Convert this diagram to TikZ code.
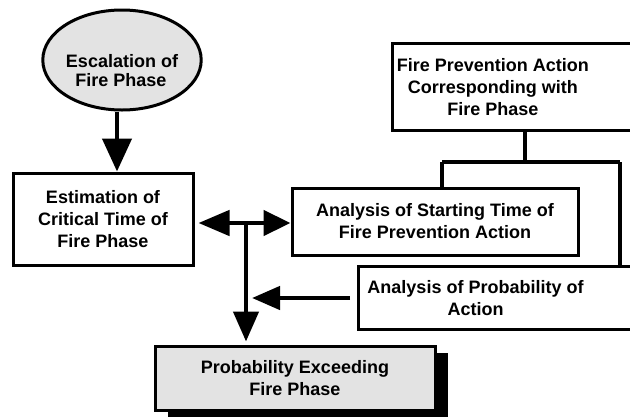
\documentclass[tikz,border=0pt]{standalone}
\usepackage{fontspec}
\setmainfont{Liberation Sans}
\usetikzlibrary{calc,shapes.geometric,shadows,arrows.meta}

\begin{document}
\begin{tikzpicture}[x=1pt, y=-1pt,
    box/.style={rectangle, draw, line width=3pt, align=center,
      font=\fontsize{18}{22}\selectfont\bfseries},
    shade/.style={fill=gray!22},
    link/.style={line width=4.5pt},
    >={Triangle[length=33pt,width=29pt]}]

  \useasboundingbox (0,0) rectangle (630,416);

  \node[box,shade,ellipse,minimum width=155pt,minimum height=100pt,inner sep=0pt,
    font=\fontsize{18}{18.5}\selectfont\bfseries,
    text height=60pt,text depth=8pt] (esc) at (122,60)
    {Escalation of\\Fire Phase\hspace*{2pt}};
  \node[box,minimum width=180pt,minimum height=92pt] (est) at (103,219)
    {Estimation of\\Critical Time of\\Fire Phase};
  \node[box,draw=none,minimum width=176pt,minimum height=84pt,anchor=west] (act) at (392,87)
    {Fire Prevention Action\\Corresponding with\\Fire Phase};
  \node[box,minimum width=286pt,minimum height=67pt] (start) at (435,221.5)
    {Analysis of Starting Time of\\Fire Prevention Action};
  \node[box,draw=none,minimum width=232pt,minimum height=60pt,anchor=west] (prob) at (358,298)
    {Analysis of Probability of\\Action};
  \node[box,shade,minimum width=280pt,minimum height=64pt,
    drop shadow={shadow xshift=13pt,shadow yshift=-7pt,fill=black,opacity=1}] (exceed) at (295,378)
    {Probability Exceeding\\Fire Phase};

  % frame of act is wider than its text
  \draw[line width=3pt] (act.north west) rectangle ([xshift=45pt]act.south east);
  % open box on the right
  \draw[line width=3pt] ([xshift=60pt]prob.north east) -- (prob.north west)
    -- (prob.south west) -- ([xshift=60pt]prob.south east);

  \coordinate (split) at (525,162);
  \coordinate (bl) at (442,162);
  \coordinate (br) at (620,162);
  \coordinate (jn) at (246,223);

  \draw[link] (split |- act.south) -- (split);
  \draw[link] (bl) -- (br);
  \draw[link] (bl) -- (bl |- start.north);
  \draw[link] (br) -- (br |- prob.north);

  \draw[link,->] ([xshift=-5pt]esc.south) -- ([xshift=-5pt]esc.south |- est.north);
  \draw[link,{Triangle[length=31pt,width=25pt]}-{Triangle[length=27pt,width=25pt]}]
    let \p1 = (est.east), \p2 = (jn) in (\x1+4pt,\y2) -- (start.west |- jn);
  \draw[link,-{Triangle[length=30pt,width=25pt]},shorten >=3pt] (jn) -- (jn |- exceed.north);
  \draw[link,-{Triangle[length=28pt,width=23pt]},shorten <=8pt]
    (prob.west) -- ([xshift=6pt]jn |- prob.west);
\end{tikzpicture}
\end{document}
